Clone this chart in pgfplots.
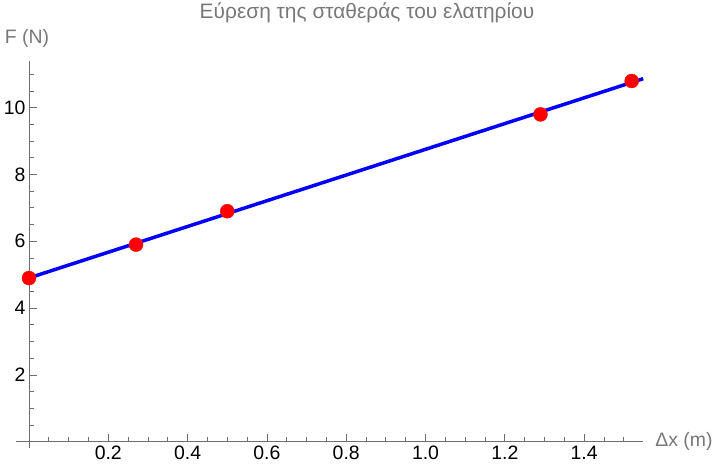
\documentclass[border=0pt]{standalone}
\usepackage{fontspec}
\setmainfont{Liberation Sans}
\usepackage{pgfplots}
\pgfplotsset{compat=1.18}
\definecolor{axgray}{RGB}{110,110,110}
\definecolor{txtgray}{RGB}{120,120,120}
\begin{document}
\begin{tikzpicture}
\path[use as bounding box] (-29bp,-30.3bp) rectangle (691bp,441.7bp);
\begin{axis}[
  anchor=origin, at={(0,0)},
  x=396.5bp, y=33.4bp,
  axis lines=middle,
  axis line style={-, axgray, line width=0.8pt},
  xmin=-0.033, xmax=1.549, ymin=-0.2, ymax=11.4,
  clip=false,
  xtick={0.2,0.4,0.6,0.8,1.0,1.2,1.4},
  minor xtick={0.05,0.1,0.15,0.25,0.3,0.35,0.45,0.5,0.55,0.65,0.7,0.75,0.85,0.9,0.95,1.05,1.1,1.15,1.25,1.3,1.35,1.45,1.5},
  ytick={2,4,6,8,10},
  minor ytick={0.5,1,1.5,2.5,3,3.5,4.5,5,5.5,6.5,7,7.5,8.5,9,9.5,10.5,11},
  tick align=inside,
  major tick length=8bp,
  minor tick length=5bp,
  every tick/.style={axgray, line width=0.8pt},
  /pgf/number format/assume math mode=true,
  xticklabel style={font=\fontsize{19.5}{19.5}\selectfont, black,
    /pgf/number format/.cd, fixed, fixed zerofill, precision=1},
  yticklabel style={font=\fontsize{19.5}{19.5}\selectfont, black},
  xticklabel shift=1bp,
  yticklabel shift=0bp,
]
\addplot[only marks, mark=*, mark size=7bp, draw=red, fill=red] coordinates {
  (0,4.9) (0.27,5.9) (0.5,6.9) (1.29,9.8) (1.52,10.8)
};
\addplot[blue, line width=3.5bp] coordinates {
  (0,4.903) (1.549,10.868)
};
\node[txtgray, font=\fontsize{21}{21}\selectfont] at (axis cs:0.8525,12.83) {Εύρεση της σταθεράς του ελατηρίου};
\node[txtgray, font=\fontsize{19.5}{19.5}\selectfont] at (axis cs:-0.005,12.07) {F (N)};
\node[txtgray, font=\fontsize{19.5}{19.5}\selectfont] at (axis cs:1.652,0) {Δx (m)};
\end{axis}
\end{tikzpicture}
\end{document}
